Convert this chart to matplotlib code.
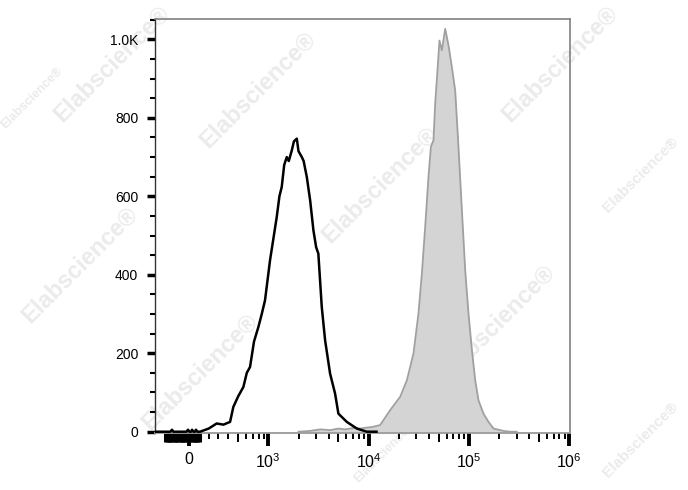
import numpy as np
import matplotlib
matplotlib.use("Agg")
import matplotlib.pyplot as plt
from matplotlib.markers import TICKDOWN

plt.rcParams['font.family'] = ['Liberation Sans', 'DejaVu Sans']
plt.rcParams['mathtext.fontset'] = 'custom'
plt.rcParams['mathtext.rm'] = 'Liberation Sans'

# unstained / isotype control (black outline)
ctrl_x = [-346, -250, -190, -173, -160, -25, -10, 5, 20, 31, 45, 60, 71, 85,
          112, 200, 282, 350, 418, 451, 500, 564, 610, 657, 720, 796, 860, 927,
          1040, 1120, 1213, 1290, 1361, 1440, 1527, 1600, 1714, 1800, 1923,
          2000, 2158, 2250, 2421, 2612, 2818, 3000, 3155, 3412, 3684, 4131,
          4634, 5000, 6067, 7638, 9604, 12000]
ctrl_y = [0, 0, 0, 5, 0, 0, 5, 0, 0, 5, 0, 0, 5, 0,
          0, 8, 21, 18, 25, 63, 90, 114, 150, 165, 230, 267, 300, 335,
          437, 490, 547, 600, 624, 680, 700, 690, 717, 740, 747,
          715, 700, 690, 649, 590, 513, 470, 454, 318, 233, 148,
          97, 46, 25, 8, 0, 0]

# stained sample (grey filled)
samp_x = [2000, 2609, 3300, 4132, 5000, 5831, 7340, 8234, 9237, 10847, 13039,
          16406, 20646, 24081, 28025, 31430, 33993, 36672, 39556, 41799,
          44373, 46138, 48648, 50929, 53821, 58065, 62622, 67722, 73040,
          78770, 85186, 91949, 99165, 107244, 115660, 124750, 139983, 157036,
          176150, 221650, 258560, 300000]
samp_y = [0, 2, 6, 4, 8, 6, 10, 8, 10, 12, 17,
          55, 89, 131, 199, 301, 403, 522, 649, 726,
          743, 836, 921, 997, 972, 1027, 985, 929, 870,
          726, 565, 411, 301, 208, 131, 80, 46, 25,
          8, 2, 0, 0]

ytick_vals = [0, 200, 400, 600, 800, 1000]
ytick_labels = ['0', '200', '400', '600', '800', '1.0K']
xtick_vals = [0, 1e3, 1e4, 1e5, 1e6]
xtick_labels = ['0', r'$\mathregular{10^{3}}$', r'$\mathregular{10^{4}}$',
                r'$\mathregular{10^{5}}$', r'$\mathregular{10^{6}}$']
x_minor = [m * 10 ** e for e in range(2, 6) for m in range(2, 10)]
x_mid = [5 * 10 ** e for e in range(2, 6)]
x_zero_block = list(range(-240, 110, 12))

fig = plt.figure(figsize=(6.88, 4.9), dpi=100)

# faint watermarks (x px, y px, size), kept under the axes
marks = [(112, 64, 17), (32, 98, 9), (258, 90, 17), (560, 64, 17),
         (380, 185, 17), (80, 265, 17), (640, 175, 11), (497, 323, 17),
         (200, 372, 17), (640, 440, 11), (385, 452, 9)]
for mx, my, ms in marks:
    fig.text(mx / 688, 1 - my / 490, 'Elabscience\u00ae', fontsize=ms,
             fontweight='bold', color='#ebebeb', rotation=45,
             ha='center', va='center', zorder=-1)

ax = fig.add_axes([155 / 688, 1 - 432.5 / 490, 415 / 688, 413.5 / 490])
ax.patch.set_alpha(0)
ax.set_xscale('symlog', linthresh=500, linscale=0.441)

ax.fill_between(samp_x, samp_y, color='#d4d4d4', lw=0, zorder=2)
ax.plot(samp_x, samp_y, color='#a0a0a0', lw=1.3, zorder=3)
ax.plot(ctrl_x, ctrl_y, color='black', lw=1.8, zorder=4)

ax.set_xlim(-346, 1.02e6)
ax.set_ylim(-2, 1052)

ax.set_yticks(ytick_vals)
ax.set_yticklabels(ytick_labels)
ax.set_yticks(np.arange(50, 1100, 50), minor=True)
ax.set_xticks(xtick_vals)
ax.set_xticklabels(xtick_labels)
ax.set_xticks(x_minor, minor=True)

ax.tick_params(axis='y', which='major', length=6, width=2.5, pad=6,
               labelsize=10, color='black')
ax.tick_params(axis='y', which='minor', length=3.5, width=1.5, color='black')
ax.tick_params(axis='x', which='major', length=9, width=2.8, pad=5,
               labelsize=11.5, color='black')
ax.tick_params(axis='x', which='minor', length=4, width=1.4, color='black')

ax.plot(x_mid, [0] * len(x_mid), ls='', marker=TICKDOWN, markersize=6.5,
        mew=1.4, color='black', transform=ax.get_xaxis_transform(),
        clip_on=False)
ax.plot(x_zero_block, [0] * len(x_zero_block), ls='', marker=TICKDOWN,
        markersize=6.5, mew=2.2, color='black',
        transform=ax.get_xaxis_transform(), clip_on=False)

ax.spines['left'].set_color('#333333')
ax.spines['left'].set_linewidth(1.0)
ax.spines['bottom'].set_color('#999999')
ax.spines['bottom'].set_linewidth(1.3)
for s in ['top', 'right']:
    ax.spines[s].set_color('#808080')
    ax.spines[s].set_linewidth(1.2)

fig.savefig('out.png', dpi=100)
